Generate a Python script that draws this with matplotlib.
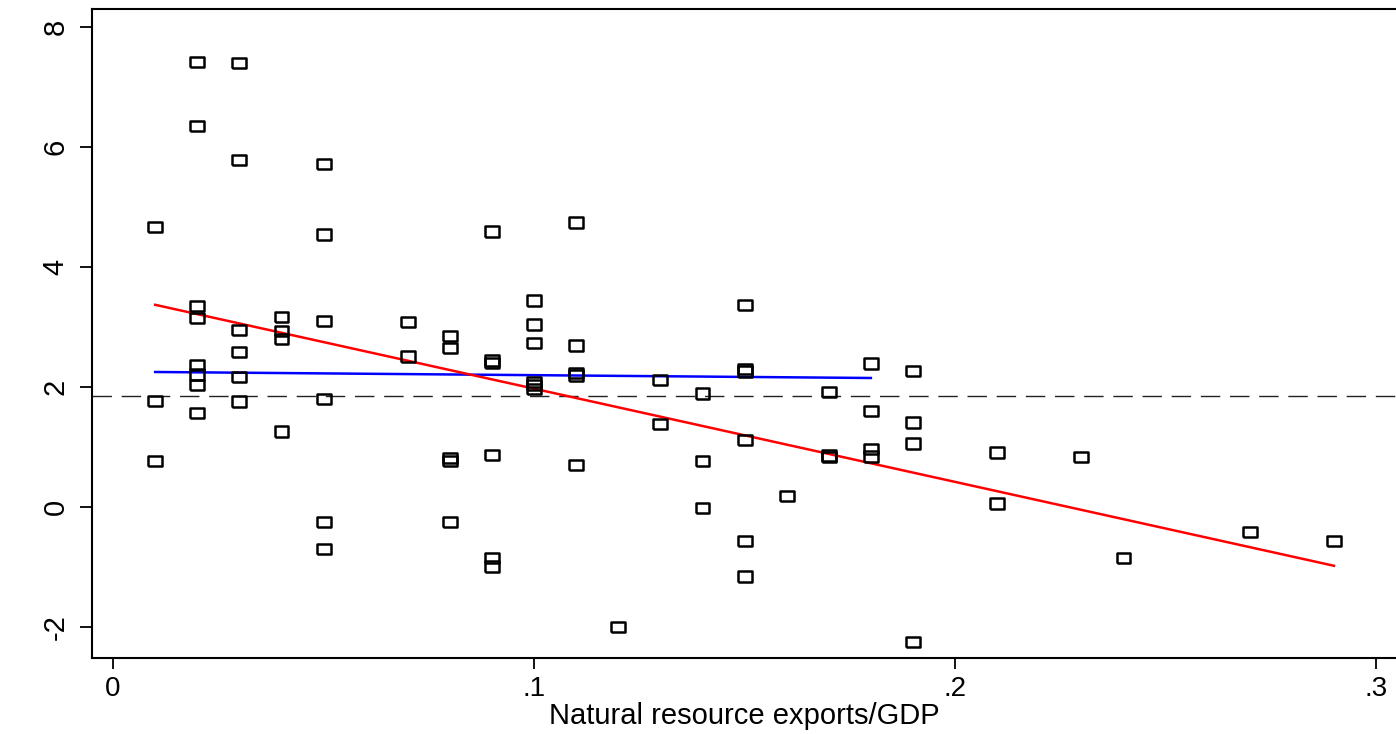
import matplotlib
matplotlib.use("Agg")
import matplotlib.pyplot as plt
import numpy as np

plt.rcParams['font.family'] = ['Liberation Sans', 'DejaVu Sans']

# natural resource exports/GDP vs growth
x = [0.01, 0.01, 0.01,
     0.02, 0.02, 0.02, 0.02, 0.02, 0.02, 0.02, 0.02,
     0.03, 0.03, 0.03, 0.03, 0.03, 0.03,
     0.04, 0.04, 0.04, 0.04,
     0.05, 0.05, 0.05, 0.05, 0.05, 0.05,
     0.07, 0.07,
     0.08, 0.08, 0.08, 0.08, 0.08,
     0.09, 0.09, 0.09, 0.09, 0.09, 0.09,
     0.10, 0.10, 0.10, 0.10, 0.10, 0.10,
     0.11, 0.11, 0.11, 0.11, 0.11,
     0.12,
     0.13, 0.13,
     0.14, 0.14, 0.14,
     0.15, 0.15, 0.15, 0.15, 0.15, 0.15,
     0.16,
     0.17, 0.17, 0.17,
     0.18, 0.18, 0.18, 0.18,
     0.19, 0.19, 0.19, 0.19,
     0.21, 0.21,
     0.23, 0.24, 0.27, 0.29]
y = [4.67, 1.77, 0.77,
     7.42, 6.35, 3.35, 3.15, 2.37, 2.21, 2.03, 1.57,
     7.40, 5.78, 2.95, 2.58, 2.17, 1.76,
     3.17, 2.93, 2.80, 1.26,
     5.72, 4.54, 3.10, 1.80, -0.25, -0.70,
     3.08, 2.51,
     2.85, 2.65, 0.82, 0.77, -0.25,
     4.59, 2.44, 2.40, 0.87, -0.85, -0.99,
     3.44, 3.04, 2.73, 2.08, 2.03, 1.97,
     4.74, 2.69, 2.23, 2.19, 0.70,
     -2.00,
     2.12, 1.38,
     1.89, 0.77, -0.02,
     3.37, 2.30, 2.26, 1.12, -0.57, -1.16,
     0.18,
     1.92, 0.86, 0.83,
     2.39, 1.60, 0.97, 0.84,
     2.27, 1.41, 1.06, -2.25,
     0.91, 0.06,
     0.83, -0.85, -0.42, -0.57]

# fitted lines and mean
fit_all_x = [0.01, 0.29]
fit_all_y = [3.37, -0.98]
fit_sub_x = [0.01, 0.18]
fit_sub_y = [2.25, 2.15]
mean_y = 1.85

xticks = [0, 0.1, 0.2, 0.3]
xticklabels = ['0', '.1', '.2', '.3']
yticks = [-2, 0, 2, 4, 6, 8]

fig = plt.figure(figsize=(13.96, 7.34), dpi=100)
ax = fig.add_axes([92/1396, 76/734, 1306/1396, 649/734])

# wide hollow square, like the stata symbol
sq = [(-1.35, -1), (1.35, -1), (1.35, 1), (-1.35, 1), (-1.35, -1)]
ax.scatter(x, y, marker=sq, s=100, facecolors='none', edgecolors='black',
           linewidths=1.8, zorder=3)

ax.axhline(mean_y, color='#222222', lw=1.0, dashes=(14, 7), zorder=1)
ax.plot(fit_sub_x, fit_sub_y, color='#0000ff', lw=1.8, zorder=2)
ax.plot(fit_all_x, fit_all_y, color='#ff0000', lw=1.8, zorder=2)

ax.set_xlim(-0.005, 0.3052)
ax.set_ylim(-2.517, 8.3)
ax.set_xticks(xticks)
ax.set_xticklabels(xticklabels)
ax.set_yticks(yticks)
ax.set_yticklabels([str(v) for v in yticks], rotation=90, va='center')
ax.tick_params(axis='x', direction='out', length=8, width=1.3, labelsize=20, pad=5)
ax.tick_params(axis='y', direction='out', length=9, width=1.3, labelsize=21, pad=7)
for s in ax.spines.values():
    s.set_linewidth(1.5)
ax.set_xlabel('Natural resource exports/GDP', fontsize=21)
ax.xaxis.label.set_va('baseline')
ax.xaxis.set_label_coords(0.4995, -0.1017)

fig.savefig('out.png', dpi=100)
